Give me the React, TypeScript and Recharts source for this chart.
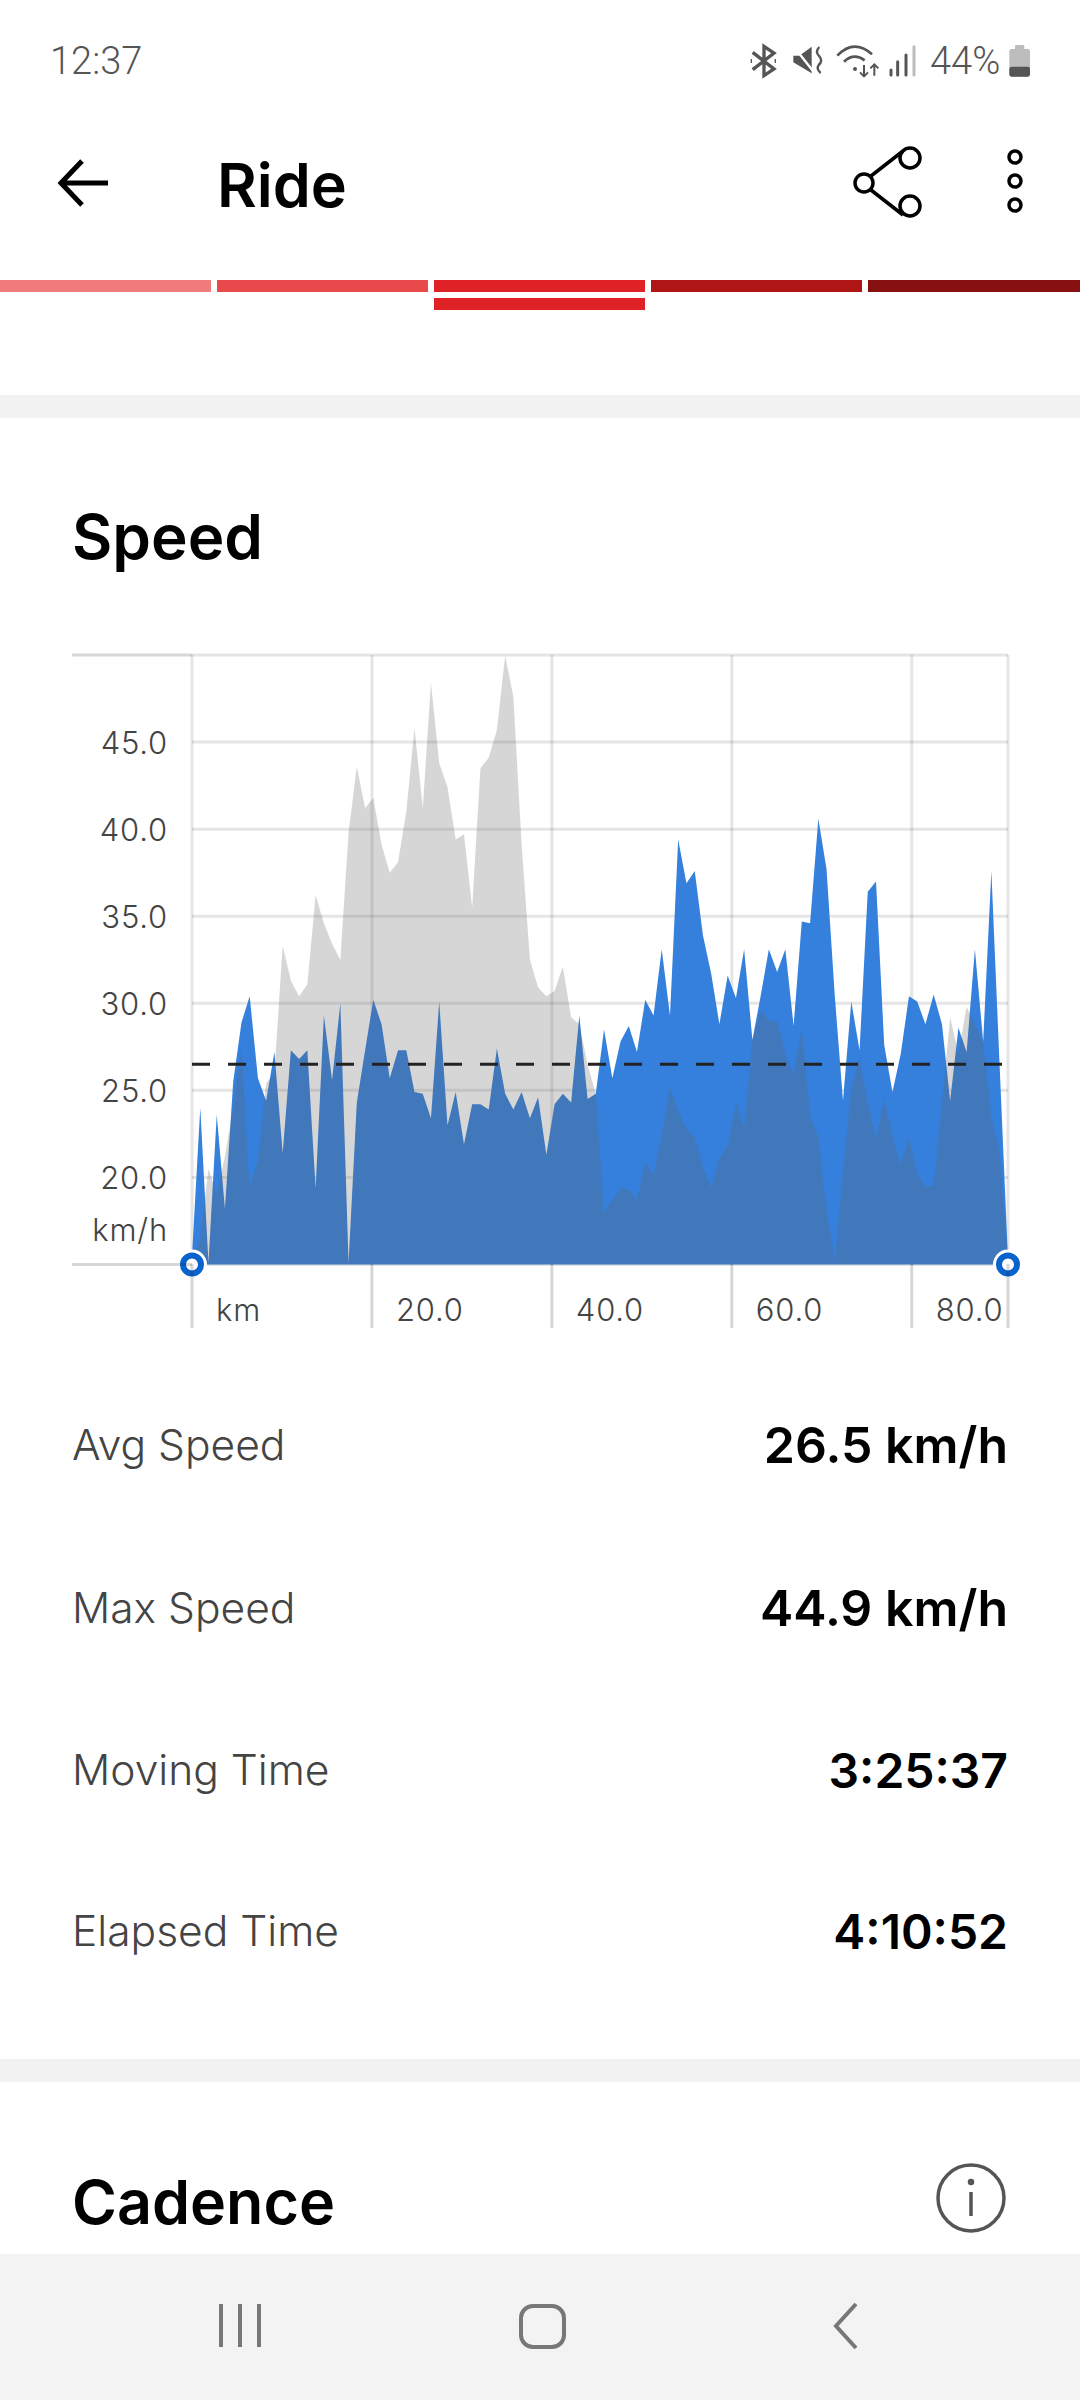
import React from 'react';
import { ComposedChart, Area, XAxis, YAxis, CartesianGrid, ReferenceLine, ReferenceDot } from 'recharts';

// distance along the ride, km
const distance = [
  0, 0.92, 1.83, 2.75, 3.66, 4.58, 5.5, 6.41, 7.33, 8.24,
  9.16, 10.08, 10.99, 11.91, 12.82, 13.74, 14.66, 15.57, 16.49, 17.4,
  18.32, 19.24, 20.15, 21.07, 21.98, 22.9, 23.82, 24.73, 25.65, 26.56,
  27.48, 28.4, 29.31, 30.23, 31.14, 32.06, 32.98, 33.89, 34.81, 35.72,
  36.64, 37.56, 38.47, 39.39, 40.3, 41.22, 42.14, 43.05, 43.97, 44.88,
  45.8, 46.72, 47.63, 48.55, 49.46, 50.38, 51.3, 52.21, 53.13, 54.04,
  54.96, 55.88, 56.79, 57.71, 58.62, 59.54, 60.46, 61.37, 62.29, 63.2,
  64.12, 65.04, 65.95, 66.87, 67.78, 68.7, 69.62, 70.53, 71.45, 72.36,
  73.28, 74.2, 75.11, 76.03, 76.94, 77.86, 78.78, 79.69, 80.61, 81.52,
  82.44, 83.36, 84.27, 85.19, 86.1, 87.02, 87.94, 88.85, 89.77, 90.7,
];

const speed = [
  15.5, 24.0, 15.1, 23.6, 18.2, 25.5, 28.9, 30.4, 25.7, 24.4,
  27.2, 21.4, 27.3, 26.8, 27.3, 19.4, 29.3, 25.6, 30.0, 15.1,
  24.3, 27.3, 30.2, 28.8, 25.7, 27.3, 27.3, 24.9, 24.8, 23.4,
  30.1, 23.0, 24.9, 21.9, 24.2, 24.2, 23.9, 27.4, 24.8, 23.9,
  24.9, 23.4, 24.6, 21.3, 24.2, 24.8, 24.3, 29.3, 24.5, 24.8,
  28.5, 25.7, 27.8, 28.7, 27.2, 30.2, 29.3, 33.1, 29.3, 39.4,
  36.9, 37.6, 33.9, 31.7, 28.8, 31.6, 30.3, 33.1, 27.9, 30.4,
  33.1, 31.8, 33.1, 28.7, 34.7, 34.6, 40.6, 37.7, 30.4, 24.4,
  30.1, 27.3, 36.4, 37.0, 27.6, 24.9, 27.1, 30.4, 30.1, 28.8,
  30.5, 28.8, 24.4, 28.6, 27.2, 33.1, 27.8, 37.6, 26.4, 15.3,
];

const elevation = [
  15.2, 16.5, 20.5, 19.0, 21.2, 24.0, 27.5, 19.4, 21.0, 25.4,
  26.0, 33.3, 31.3, 30.4, 31.1, 36.2, 34.6, 33.4, 32.5, 39.8,
  43.6, 41.2, 41.8, 39.1, 37.5, 38.1, 41.0, 45.8, 41.2, 48.4,
  43.8, 42.4, 39.4, 39.7, 35.5, 43.5, 44.1, 45.7, 49.95, 47.6,
  39.1, 32.5, 30.9, 30.4, 30.7, 32.1, 29.2, 28.8, 26.5, 24.8,
  18.0, 18.7, 19.4, 19.3, 18.7, 20.9, 20.1, 22.4, 25.2, 23.8,
  22.8, 22.3, 20.6, 19.4, 21.1, 21.8, 24.3, 22.8, 27.8, 29.6,
  29.0, 29.0, 27.1, 25.9, 28.6, 23.5, 22.3, 18.2, 15.2, 20.3,
  25.1, 26.9, 24.3, 22.2, 24.5, 22.4, 20.7, 22.3, 20.2, 19.5,
  19.5, 24.3, 29.2, 27.1, 29.8, 28.8, 27.8, 23.5, 21.4, 15.3,
];

const rideData = distance.map((km, i) => ({ km, speed: speed[i], elevation: elevation[i] }));

const yTicks = [15, 20, 25, 30, 35, 40, 45, 50];
const xTicks = [0, 20, 40, 60, 80, 90.7];
const avgSpeed = 26.5;

const stats = [
  { label: 'Avg Speed', value: '26.5 km/h', top: 1445 },
  { label: 'Max Speed', value: '44.9 km/h', top: 1608 },
  { label: 'Moving Time', value: '3:25:37', top: 1770 },
  { label: 'Elapsed Time', value: '4:10:52', top: 1931 },
];

const zones = [
  { left: 0, width: 211, color: '#EF7B7D' },
  { left: 217, width: 211, color: '#E84A4C' },
  { left: 434, width: 211, color: '#DF2226' },
  { left: 651, width: 211, color: '#B01516' },
  { left: 868, width: 212, color: '#871010' },
];

const FONT = 'Inter, sans-serif';
const GRID = 'rgba(0,0,0,0.1)';
const GRID_OUTSIDE = 'rgba(0,0,0,0.16)';

const YTick = (props: any) => {
  const { y, payload } = props;
  const v = payload.value;
  const edge = v === 15 || v === 50;
  return (
    <g>
      {edge && <line x1={72} x2={192} y1={y} y2={y} stroke={GRID_OUTSIDE} strokeWidth={3} />}
      {v !== 50 && (
        <text x={168} y={v === 15 ? y - 35 : y} textAnchor="end" dominantBaseline="central" fill="#444" fontSize={31} fontWeight={300} letterSpacing={0.8} fontFamily={FONT}>
          {v === 15 ? 'km/h' : v.toFixed(1)}
        </text>
      )}
    </g>
  );
};

const XTick = (props: any) => {
  const { x, payload } = props;
  const v = payload.value;
  return (
    <g>
      <line x1={x} x2={x} y1={1264} y2={1328} stroke={GRID_OUTSIDE} strokeWidth={3} />
      {v < 90 && (
        <text x={x + 24} y={1309} dominantBaseline="central" fill="#444" fontSize={31} fontWeight={300} letterSpacing={0.8} fontFamily={FONT}>
          {v === 0 ? 'km' : v.toFixed(1)}
        </text>
      )}
    </g>
  );
};

const SpeedChart = () => (
  <div style={{ position: 'absolute', left: 0, top: 0 }}>
    <ComposedChart width={1080} height={1340} data={rideData} margin={{ top: 655, right: 72, bottom: 0, left: 0 }}>
      <XAxis
        dataKey="km"
        type="number"
        domain={[0, 90.7]}
        ticks={xTicks}
        interval={0}
        height={75.5}
        axisLine={false}
        tickLine={false}
        tick={<XTick />}
      />
      <YAxis
        type="number"
        domain={[15, 50]}
        ticks={yTicks}
        interval={0}
        width={192}
        axisLine={false}
        tickLine={false}
        tick={<YTick />}
      />
      <Area type="linear" dataKey="speed" fill="#3580DC" fillOpacity={1} stroke="none" dot={false} activeDot={false} isAnimationActive={false} />
      <Area type="linear" dataKey="elevation" fill="#626262" fillOpacity={0.262} stroke="none" dot={false} activeDot={false} isAnimationActive={false} />
      <CartesianGrid stroke={GRID} strokeWidth={3} />
      <ReferenceLine y={avgSpeed} stroke="#222" strokeWidth={3} strokeDasharray="18 18" />
      <ReferenceDot x={0} y={15} r={15} fill="#fff" stroke="none" ifOverflow="visible" />
      <ReferenceDot x={0} y={15} r={9} fill="#fff" stroke="#0A63CC" strokeWidth={6} ifOverflow="visible" />
      <ReferenceDot x={90.7} y={15} r={15} fill="#fff" stroke="none" ifOverflow="visible" />
      <ReferenceDot x={90.7} y={15} r={9} fill="#fff" stroke="#0A63CC" strokeWidth={6} ifOverflow="visible" />
    </ComposedChart>
  </div>
);

const abs = (left: number, top: number, extra: React.CSSProperties = {}): React.CSSProperties => ({
  position: 'absolute',
  left,
  top,
  fontFamily: FONT,
  whiteSpace: 'nowrap',
  ...extra,
});

// drawn in 3x units, scaled down by the viewBox
const StatusIcons = () => (
  <svg style={{ position: 'absolute', left: 740, top: 35 }} width={300} height={50} viewBox="0 0 900 150" fill="none" stroke="#555" strokeWidth={10}>
    {/* bluetooth */}
    <path d="M38 52 L102 102 L72 122 L72 34 L102 54 L38 104" />
    <path d="M32 78 h4 M104 78 h4" strokeWidth={12} />
    {/* muted speaker */}
    <path d="M160 62 L178 62 L215 35 L215 115 L160 82 Z" fill="#555" stroke="none" />
    <path d="M165 40 L222 112" stroke="#fff" strokeWidth={7} />
    <path d="M238 36 q-14 14 0 28 q12 14 -2 26 q-8 12 6 24" strokeWidth={7} />
    {/* wifi */}
    <path d="M292 62 Q342 10 396 58 M312 80 Q342 52 374 76" strokeWidth={8} />
    <circle cx={345} cy={102} r={6} fill="#555" stroke="none" />
    <path d="M372 90 V124 M360 112 L372 124 L384 112 M403 122 V88 M391 100 L403 88 L415 100" strokeWidth={6} />
    {/* signal */}
    <path d="M453 105 V120 M473 80 V120 M498 60 V120" strokeWidth={9} strokeLinecap="round" />
    <path d="M522 35 V120" stroke="#bbb" strokeWidth={9} strokeLinecap="round" />
    {/* battery */}
    <rect x={808} y={42} width={62} height={83} rx={7} fill="#BDBDBD" stroke="none" />
    <rect x={825} y={30} width={28} height={14} rx={3} fill="#BDBDBD" stroke="none" />
    <rect x={808} y={95} width={62} height={30} rx={7} fill="#555" stroke="none" />
  </svg>
);

const HeaderIcons = () => (
  <svg style={{ position: 'absolute', left: 0, top: 140 }} width={1080} height={90} fill="none" stroke="#000" strokeWidth={5}>
    <path d="M108 43 H62 M82 21 L61 43 L82 65" />
    <path d="M871 36 L903 11 M871 50 L903 75" strokeWidth={3.5} />
    <circle cx={864} cy={43} r={9} strokeWidth={3.5} />
    <circle cx={910} cy={18} r={10} strokeWidth={3.5} />
    <circle cx={910} cy={66} r={10} strokeWidth={3.5} />
    <circle cx={1015} cy={17} r={6} strokeWidth={3.5} />
    <circle cx={1015} cy={41} r={6} strokeWidth={3.5} />
    <circle cx={1015} cy={65} r={6} strokeWidth={3.5} />
  </svg>
);

const NavBar = () => (
  <div style={{ position: 'absolute', left: 0, top: 2254, width: 1080, height: 146, background: '#F3F3F3' }}>
    <svg width={1080} height={146} fill="none" stroke="#777" strokeWidth={4}>
      <path d="M221 50 V93 M240 50 V93 M259 50 V93" />
      <rect x={521} y={52} width={43} height={41} rx={12} />
      <path d="M856 50 L836 72 L856 94" />
    </svg>
  </div>
);

export default function App() {
  return (
    <div style={{ position: 'absolute', left: 0, top: 0, width: 1080, height: 2400, background: '#fff', overflow: 'hidden' }}>
      <div style={abs(50, 39, { fontSize: 38, color: '#555', fontFamily: 'Roboto, sans-serif', fontWeight: 300 })}>12:37</div>
      <div style={abs(930, 39, { fontSize: 38, color: '#555', fontFamily: 'Roboto, sans-serif', fontWeight: 300 })}>44%</div>
      <StatusIcons />

      <HeaderIcons />
      <div style={abs(217, 148, { fontSize: 61, fontWeight: 600, color: '#000' })}>Ride</div>

      {zones.map((z) => (
        <div key={z.left} style={{ position: 'absolute', left: z.left, top: 280, width: z.width, height: 12, background: z.color }} />
      ))}
      <div style={{ position: 'absolute', left: 434, top: 298, width: 211, height: 12, background: '#DF2226' }} />
      <div style={{ position: 'absolute', left: 0, top: 395, width: 1080, height: 23, background: '#F2F2F2' }} />

      <div style={abs(72, 499, { fontSize: 62, fontWeight: 600, color: '#000' })}>Speed</div>
      <SpeedChart />

      {stats.map((s) => {
        const isSpeed = s.value.endsWith('km/h');
        return (
          <React.Fragment key={s.label}>
            <div style={abs(72, s.top - 26, { fontSize: 42.5, color: '#444', fontWeight: 300 })}>{s.label}</div>
            <div style={{ ...abs(0, s.top - (isSpeed ? 30 : 29), { fontSize: isSpeed ? 50 : 48, fontWeight: 600, color: '#000' }), left: 'auto', right: 72 }}>{s.value}</div>
          </React.Fragment>
        );
      })}

      <div style={{ position: 'absolute', left: 0, top: 2059, width: 1080, height: 23, background: '#F2F2F2' }} />
      <div style={abs(72, 2165, { fontSize: 61, fontWeight: 600, color: '#000' })}>Cadence</div>
      <svg style={{ position: 'absolute', left: 930, top: 2158 }} width={80} height={80} fill="none" stroke="#555" strokeWidth={3.5}>
        <circle cx={41} cy={40} r={33} />
        <path d="M41 34 V58" />
        <circle cx={41} cy={24} r={1.5} />
      </svg>
      <NavBar />
    </div>
  );
}
